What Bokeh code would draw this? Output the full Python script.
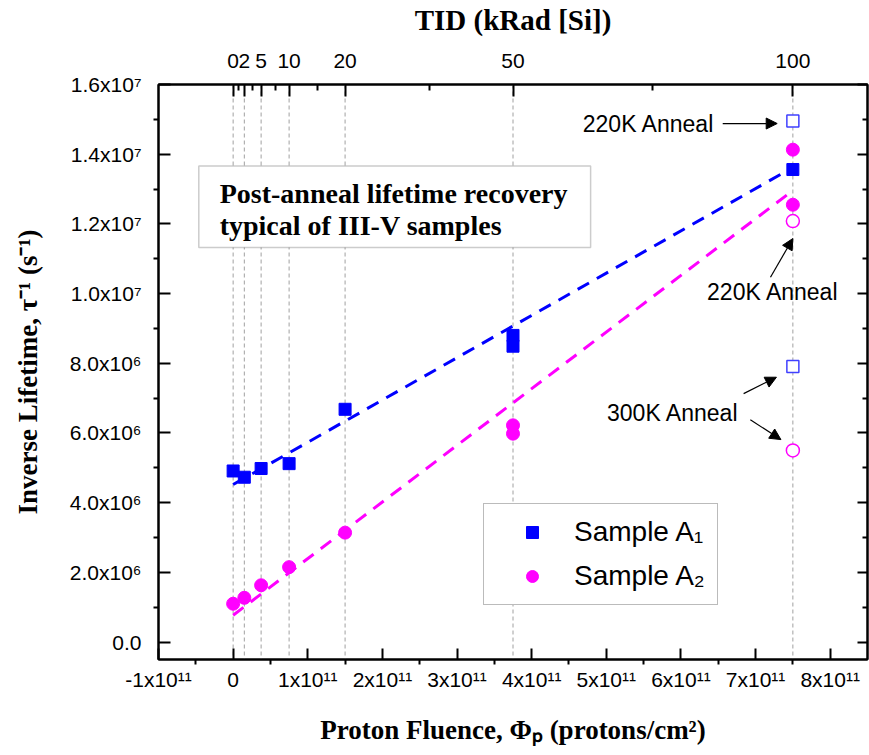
from bokeh.plotting import figure
from bokeh.models import (LinearAxis, FixedTicker, Range1d, Span, BoxAnnotation,
                          Label, Arrow, NormalHead, Legend, LegendItem)
from bokeh.embed import file_html
from bokeh.resources import INLINE

# ---------------- data ----------------
FLUENCE_PER_KRAD = 7.5e9          # protons/cm^2 per kRad(Si)

tid_levels = [0, 2, 5, 10, 20, 50, 100]
tid_minor = [1, 3.5, 7.5, 15, 35, 75]

# Sample A1 (blue squares), TID in kRad, inverse lifetime in 1/s
a1_tid = [0, 2, 5, 10, 20, 50, 50, 100]
a1_inv = [4.91e6, 4.73e6, 4.98e6, 5.12e6, 6.68e6, 8.80e6, 8.49e6, 13.56e6]
# Sample A2 (magenta circles)
a2_tid = [0, 2, 5, 10, 20, 50, 50, 100, 100]
a2_inv = [1.10e6, 1.27e6, 1.63e6, 2.15e6, 3.14e6, 6.22e6, 5.98e6, 14.13e6, 12.55e6]

# anneal results at 100 kRad
a1_anneal_tid = [100, 100]
a1_anneal_inv = [14.95e6, 7.91e6]     # 220K, 300K
a2_anneal_tid = [100, 100]
a2_anneal_inv = [12.08e6, 5.50e6]     # 220K, 300K

# linear fits (end points)
fit_tid = [0, 100]
a1_fit = [4.52e6, 13.62e6]
a2_fit = [0.77e6, 12.96e6]

x_ticks = [-1e11, 0, 1e11, 2e11, 3e11, 4e11, 5e11, 6e11, 7e11, 8e11]
x_tick_labels = ["-1x10¹¹", "0", "1x10¹¹", "2x10¹¹", "3x10¹¹", "4x10¹¹",
                 "5x10¹¹", "6x10¹¹", "7x10¹¹", "8x10¹¹"]
x_minor = [-0.5e11, 0.5e11, 1.5e11, 2.5e11, 3.5e11, 4.5e11, 5.5e11, 6.5e11, 7.5e11]

y_ticks = [0, 2e6, 4e6, 6e6, 8e6, 1e7, 1.2e7, 1.4e7, 1.6e7]
y_tick_labels = ["0.0", "2.0x10⁶", "4.0x10⁶", "6.0x10⁶", "8.0x10⁶",
                 "1.0x10⁷", "1.2x10⁷", "1.4x10⁷", "1.6x10⁷"]
y_minor = [-1e6, 1e6, 3e6, 5e6, 7e6, 9e6, 11e6, 13e6, 15e6]


def fl(tids):
    return [t * FLUENCE_PER_KRAD for t in tids]


# ---------------- figure ----------------
SERIF = "Liberation Serif"
SANS = "Liberation Sans"
BLUE = "#0000ff"
MAGENTA = "#ff00ff"

p = figure(width=869, height=755, output_backend="svg", toolbar_location=None,
           x_range=Range1d(-1e11, 8.5e11), y_range=Range1d(-0.5e6, 1.6e7),
           x_axis_location=None, y_axis_location=None,
           min_border_left=158, min_border_right=2, min_border_top=83, min_border_bottom=96)
p.xgrid.visible = False
p.ygrid.visible = False
p.outline_line_color = "black"
p.outline_line_width = 2
p.background_fill_color = "white"
p.border_fill_color = "white"


def style_axis(ax, label_size="21px", title_size="27px"):
    ax.axis_line_width = 2
    ax.major_tick_line_width = 2
    ax.minor_tick_line_width = 2
    ax.major_label_text_font = SANS
    ax.major_label_text_font_size = label_size
    ax.major_label_text_color = "black"
    ax.axis_label_text_font = SERIF
    ax.axis_label_text_font_style = "bold"
    ax.axis_label_text_font_size = title_size
    ax.axis_label_text_color = "black"


# bottom axis
bx = LinearAxis(ticker=FixedTicker(ticks=x_ticks, minor_ticks=x_minor),
                major_label_overrides=dict(zip(x_ticks, x_tick_labels)),
                axis_label="Proton Fluence, Φₚ (protons/cm²)")
style_axis(bx)
bx.major_tick_in, bx.major_tick_out = 11, 0
bx.minor_tick_in, bx.minor_tick_out = 0, 5
bx.major_label_standoff = 3
bx.axis_label_standoff = 21
p.add_layout(bx, "below")

# left axis
ly = LinearAxis(ticker=FixedTicker(ticks=y_ticks, minor_ticks=y_minor),
                major_label_overrides=dict(zip(y_ticks, y_tick_labels)),
                axis_label="Inverse Lifetime, τ⁻¹ (s⁻¹)")
style_axis(ly)
ly.major_tick_in, ly.major_tick_out = 12, 0
ly.minor_tick_in, ly.minor_tick_out = 0, 5
ly.major_label_standoff = 12
ly.axis_label_standoff = 24
p.add_layout(ly, "left")

# right axis (ticks only)
ry = LinearAxis(ticker=FixedTicker(ticks=y_ticks, minor_ticks=y_minor),
                major_label_overrides={t: "" for t in y_ticks})
style_axis(ry, "1px")
ry.major_tick_in, ry.major_tick_out = 10, 0
ry.minor_tick_in, ry.minor_tick_out = 5, 0
ry.major_label_standoff = 0
p.add_layout(ry, "right")

# top axis: TID
top_ticks = fl(tid_levels)
tx = LinearAxis(ticker=FixedTicker(ticks=top_ticks, minor_ticks=fl(tid_minor)),
                major_label_overrides={f: str(t) for f, t in zip(top_ticks, tid_levels)},
                axis_label="TID (kRad [Si])")
style_axis(tx, title_size="29px")
tx.major_tick_in, tx.major_tick_out = 12, 0
tx.minor_tick_in, tx.minor_tick_out = 6, 0
tx.major_label_standoff = 17
tx.axis_label_standoff = 15
p.add_layout(tx, "above")

# vertical guide lines at TID levels
for f in top_ticks:
    p.add_layout(Span(location=f, dimension="height", line_color="#a0a0a0",
                      line_width=1, line_dash="4 3", level="underlay"))

# fit lines
p.line(fl(fit_tid), a1_fit, line_color=BLUE, line_width=3, line_dash="13 9")
p.line(fl(fit_tid), a2_fit, line_color=MAGENTA, line_width=3, line_dash="13 9")

# data
r1 = p.scatter(fl(a1_tid), a1_inv, marker="square", size=12, color=BLUE)
r2 = p.scatter(fl(a2_tid), a2_inv, marker="circle", size=13, color=MAGENTA)
p.scatter(fl(a1_anneal_tid), a1_anneal_inv, marker="square", size=12,
          fill_color="white", line_color="#4040ff", line_width=1.5)
p.scatter(fl(a2_anneal_tid), a2_anneal_inv, marker="circle", size=13,
          fill_color="white", line_color=MAGENTA, line_width=1.5)

# text box
p.add_layout(BoxAnnotation(left=-0.46e11, right=4.79e11, bottom=11.32e6, top=13.66e6,
                           fill_color="white", fill_alpha=1.0,
                           line_color="#555555", line_width=1.5))
for txt, yy in [("Post-anneal lifetime recovery", 12.88e6),
                ("typical of III-V samples", 11.96e6)]:
    p.add_layout(Label(x=-0.18e11, y=yy, text=txt, text_font=SERIF,
                       text_font_style="bold", text_font_size="28px",
                       text_baseline="middle", text_align="left", text_color="black"))

# annotations
ann_labels = [("220K Anneal", 6.45e11, 14.88e6, "right"),
              ("220K Anneal", 6.35e11, 10.04e6, "left"),
              ("300K Anneal", 5.01e11, 6.56e6, "left")]
for txt, xx, yy, al in ann_labels:
    p.add_layout(Label(x=xx, y=yy, text=txt, text_font=SANS, text_font_size="23px",
                       text_baseline="middle", text_align=al, text_color="black"))

arrows = [(6.56e11, 14.88e6, 7.29e11, 14.88e6),
          (7.20e11, 10.47e6, 7.50e11, 11.58e6),
          (6.84e11, 7.13e6, 7.28e11, 7.60e6),
          (6.93e11, 6.38e6, 7.34e11, 5.81e6)]
for x0, y0, x1, y1 in arrows:
    p.add_layout(Arrow(x_start=x0, y_start=y0, x_end=x1, y_end=y1,
                       line_color="black", line_width=1.2,
                       end=NormalHead(size=11, fill_color="black", line_color="black")))

# legend
legend = Legend(items=[LegendItem(label="Sample A₁", renderers=[r1]),
                       LegendItem(label="Sample A₂", renderers=[r2])],
                location=(325, 54), orientation="vertical",
                label_text_font=SANS, label_text_font_size="28px",
                label_text_color="black",
                label_height=30, glyph_height=30, glyph_width=72,
                padding=12, spacing=12, margin=0, label_standoff=6,
                border_line_color="#777777", border_line_width=1.5,
                background_fill_color="white", background_fill_alpha=1.0)
p.add_layout(legend, "center")

open("out.html", "w").write(file_html(p, INLINE))
